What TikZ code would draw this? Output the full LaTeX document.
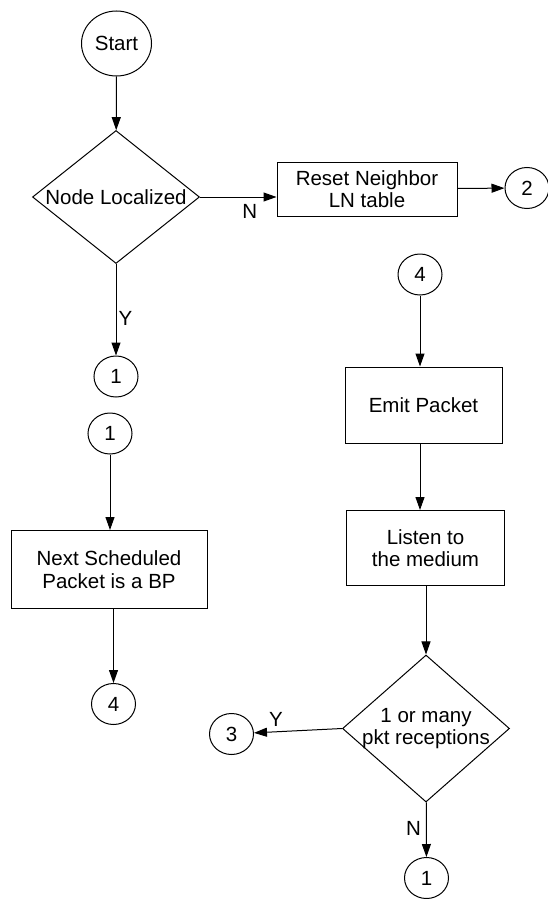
\documentclass[tikz,border=0pt]{standalone}
\usepackage{fontspec}
\setmainfont{Liberation Sans}
\usetikzlibrary{arrows.meta,shapes.geometric}
\tikzset{
  proc/.style={draw,rectangle,align=center,inner sep=0pt},
  decision/.style={draw,diamond,inner sep=0pt,minimum width=167pt},
  conn/.style={draw,ellipse,minimum width=44pt,minimum height=41pt,inner sep=0pt},
  yn/.style={inner sep=1pt}
}

\begin{document}
\begin{tikzpicture}[x=1pt,y=-1pt,>={Triangle[length=13pt,width=9pt]},line width=1pt,
    font=\fontsize{20.5}{22.5}\selectfont]
  \useasboundingbox (0,0) rectangle (547,899);

  \node[conn,minimum width=70pt,minimum height=65pt] (start) at (116.5,43.5) {Start};
  \node[decision,minimum height=133pt,label={center:Node Localized}] (loc) at (116,197) {};
  \node[proc,minimum width=180pt,minimum height=54pt] (reset) at (367,189) {Reset Neighbor\\LN table};
  \node[conn] (c2) at (527,188) {2};
  \node[conn] (c1a) at (116,376.5) {1};
  \node[conn] (c1b) at (110,433.5) {1};
  \node[proc,minimum width=196pt,minimum height=78pt] (next) at (109,569.5) {Next Scheduled\\Packet is a BP};
  \node[conn] (c4b) at (113.5,704) {4};

  \node[conn] (c4a) at (420,274.5) {4};
  \node[proc,minimum width=157pt,minimum height=76pt] (emit) at (423.5,405) {Emit Packet};
  \node[proc,minimum width=158pt,minimum height=75pt] (listen) at (425.5,548) {Listen to\\the medium};
  \node[decision,minimum height=147pt,label={[align=center]center:1 or many\\pkt receptions}] (recv) at (426,728.5) {};
  \node[conn] (c3) at (231.5,734) {3};
  \node[conn] (c1c) at (426.5,878) {1};

  \draw[->] (start) -- (loc);
  \draw[->] (loc.east) -- (loc.east -| reset.west) node[yn,pos=0.65,below=5.5pt]{N};
  \draw[->] (reset) -- (c2);
  \draw[->] (loc) -- (c1a) node[yn,pos=0.6,right=1pt]{Y};
  \draw[->] (c1b) -- (c1b |- next.north);
  \draw[->] (next.south -| c4b) -- (c4b);

  \draw[->] (c4a) -- (c4a |- emit.north);
  \draw[->] (emit.south -| c4a) -- (c4a |- listen.north);
  \draw[->] (listen.south -| recv) -- (recv);
  \draw[->] (recv.west) -- (c3) node[yn,pos=0.75,above=4pt]{Y};
  \draw[->] (recv) -- (c1c) node[yn,pos=0.47,left=4pt]{N};
\end{tikzpicture}
\end{document}
